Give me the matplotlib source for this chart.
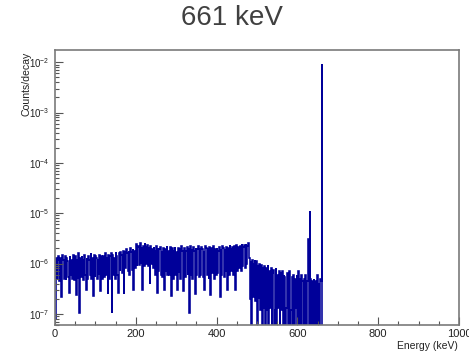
import numpy as np
import matplotlib
matplotlib.use("Agg")
import matplotlib.pyplot as plt
from matplotlib.ticker import LogLocator, FixedLocator, MultipleLocator, FuncFormatter, NullFormatter

plt.rcParams['font.family'] = ['Liberation Sans', 'DejaVu Sans']
plt.rcParams['mathtext.fontset'] = 'custom'
plt.rcParams['mathtext.rm'] = 'Liberation Sans'
plt.rcParams['mathtext.it'] = 'Liberation Sans:italic'

# ---- data (bin contents in units of 1e-7 counts/decay, 2 keV bins) ----
bin_width_kev = 2
energy_max_kev = 1000
unit = 1e-7

# 0 - 480 keV : Compton continuum
band_continuum = [
    0.8, 13, 5, 12, 14, 4.5, 13, 6, 2.2, 15, 12, 5, 14, 4.8, 13, 11, 5.5, 2.6, 14, 6,
    12, 5, 15, 13, 4.6, 14, 2.4, 12, 5, 16, 1.05, 13, 5.5, 14, 12, 4.8, 15, 6, 3, 13,
    5, 14, 12, 6, 16, 4.9, 13, 2.3, 15, 5.5, 14, 13, 5, 12, 6, 15, 2.8, 14, 5, 13,
    14, 5.5, 16, 6, 13, 2.5, 15, 5, 14, 16, 1.05, 15, 6, 13, 5, 17, 14, 6, 2.6, 16,
    7, 17, 15, 6.5, 18, 2.5, 17, 8, 19, 16, 7, 18, 6, 20, 17, 7.5, 19, 3, 18, 8,
    24, 9, 21, 22, 9.5, 26, 10, 20, 3, 22, 9, 25, 21, 10, 23, 9, 20, 4, 22, 10,
    19, 8, 21, 18, 6, 22, 2.6, 20, 7, 19, 21, 6, 18, 5.5, 20, 3, 19, 7, 22, 6,
    18, 6, 21, 19, 2.3, 20, 5, 18, 21, 6, 17, 3, 20, 6.5, 19, 5, 22, 18, 6, 2.8,
    20, 5.5, 18, 21, 6, 19, 1.05, 22, 6, 19, 5, 21, 18, 2.5, 20, 6, 19, 22, 5.5, 20,
    6, 21, 19, 5.5, 18, 3, 22, 20, 6, 19, 5, 21, 2.4, 20, 6.5, 18, 22, 5, 19, 6,
    20, 6.5, 18, 21, 2.2, 19, 6, 22, 20, 5.5, 19, 7, 21, 3, 20, 6, 23, 19, 7, 21,
    6, 19, 22, 3, 23, 7, 20, 21, 8, 22, 7, 24, 9, 21, 23, 8, 24, 10, 22, 25,
]
# 480 - 660 keV : above the Compton edge (with the two small lines near 627 / 630 keV)
band_edge = [
    13, 2, 11, 0, 12, 2.2, 10, 12, 1.8, 11, 0, 9, 2, 10, 1.2, 9.5, 0, 8.5, 1.3, 9,
    0, 8, 1.2, 9.5, 0, 7, 1.3, 8, 0, 6.5, 7.5, 0, 1.2, 8, 0, 6, 1.3, 7, 0, 6.5,
    1.2, 7, 0, 6, 5.5, 0, 1.3, 6.5, 0, 5, 7, 0, 1.2, 5.5, 0, 6, 0, 5, 1.3, 6,
    0, 7, 0, 5, 0, 6, 4.5, 0, 5, 0, 6, 0, 4.5, 31, 0, 110, 5, 0, 4.5, 0,
    5, 0, 4.5, 0, 6, 0, 4, 0, 5, 4.5,
]
# photopeak bin (660 - 662 keV)
photopeak = [92000]

n_bins = energy_max_kev // bin_width_kev
values = band_continuum + band_edge + photopeak
values = values + [0] * (n_bins - len(values))
counts = np.array(values, dtype=float) * unit
edges = np.arange(0, energy_max_kev + bin_width_kev, bin_width_kev)

x_ticks = [0, 200, 400, 600, 800, 1000]
title = "661 keV"

# ---- figure ----
W, H = 469, 355
fig = plt.figure(figsize=(W / 100, H / 100), dpi=100)
ax = fig.add_axes([55 / W, 1 - 325 / H, (459 - 55) / W, (325 - 50) / H])

ax.set_yscale('log', nonpositive='clip')
ax.stairs(counts, edges, baseline=None, color='#000099', lw=1.15)

ax.set_xlim(0, energy_max_kev)
ax.set_ylim(6e-8, 1.75e-2)

ax.xaxis.set_major_locator(FixedLocator(x_ticks))
ax.xaxis.set_minor_locator(MultipleLocator(50))
ax.yaxis.set_major_locator(LogLocator(base=10, numticks=20))
ax.yaxis.set_minor_locator(LogLocator(base=10, subs=np.arange(2, 10), numticks=20))
ax.yaxis.set_major_formatter(FuncFormatter(lambda v, p: r"$10^{%d}$" % int(round(np.log10(v)))))
ax.yaxis.set_minor_formatter(NullFormatter())

frame_c = '#7a7a7a'
for s in ax.spines.values():
    s.set_color(frame_c)
    s.set_linewidth(1.2)

ax.tick_params(axis='both', which='both', direction='in', color='#555555',
               top=False, right=False, labelcolor='#222222')
ax.tick_params(axis='x', which='major', length=5.8, width=0.8, pad=3, labelsize=8)
ax.tick_params(axis='x', which='minor', length=2.9, width=0.8)
ax.tick_params(axis='y', which='major', length=5.8, width=0.8, pad=4, labelsize=7)
ax.tick_params(axis='y', which='minor', length=3.2, width=0.8)

fig.text(458 / W, 1 - 346 / H, "Energy (keV)", ha='right', va='center',
         fontsize=7.5, color='#222222')
fig.text(26 / W, 1 - 52 / H, "Counts/decay", ha='center', va='top',
         rotation=90, fontsize=7.6, color='#222222')
fig.text(232 / W, 1 - 18 / H, title, ha='center', va='center',
         fontsize=20, color='#404040')

fig.savefig("out.png", dpi=100)
